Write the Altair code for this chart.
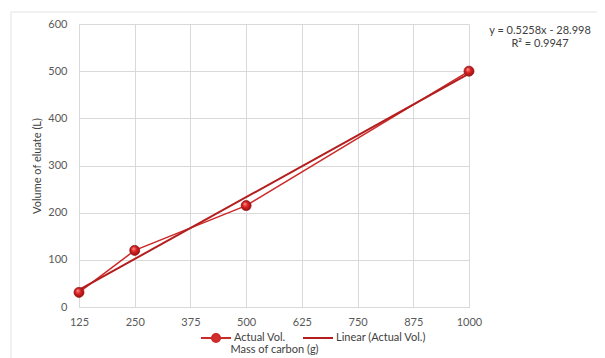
import altair as alt
import pandas as pd

mass = [125, 250, 500, 1000]
volume = [31, 120, 215, 500]
series_names = ["Actual Vol.", "Linear (Actual Vol.)"]
x_ticks = [125, 250, 375, 500, 625, 750, 875, 1000]
y_ticks = [0, 100, 200, 300, 400, 500, 600]
equation_lines = ["y = 0.5258x - 28.998", "R² = 0.9947"]

df = pd.DataFrame({"mass": mass, "vol": volume, "series": series_names[0]})
legend_df = pd.DataFrame({"series": series_names})
one = pd.DataFrame({"t": [0]})

FONT = "Lato"
RED = "#CC2929"
RED2 = "#B31E1E"

xs = alt.Scale(domain=[125, 1000], nice=False, zero=False)
ys = alt.Scale(domain=[0, 600], nice=False)

line_path = "M-1,0L1,0"
marker_path = "M-1,0L-0.27,0M0.27,0L1,0M-0.27,0A0.27,0.27 0 1,1 0.27,0A0.27,0.27 0 1,1 -0.27,0Z"


def make_legend(x, shape):
    return alt.Legend(
        title=None, orient="none", direction="horizontal",
        legendX=x, legendY=298, symbolType=shape,
        labelFont=FONT, labelFontSize=11, labelColor="#404040",
        symbolSize=900, symbolStrokeWidth=2, labelOffset=2,
    )


x_enc = alt.X("mass:Q", scale=xs, axis=alt.Axis(
    values=x_ticks, title="Mass of carbon (g)", grid=True, ticks=False,
    labelPadding=9, titleY=42, titleBaseline="middle", format="d", labelFlush=False,
    labelFont=FONT, titleFont=FONT, labelFontSize=11, titleFontSize=11,
    labelColor="#595959", titleColor="#404040", titleFontWeight="normal"))
y_enc = alt.Y("vol:Q", scale=ys, axis=alt.Axis(
    values=y_ticks, title="Volume of eluate (L)", grid=True, ticks=False,
    labelPadding=12, titlePadding=5, labelFlush=False,
    labelFont=FONT, titleFont=FONT, labelFontSize=11, titleFontSize=11,
    labelColor="#595959", titleColor="#404040", titleFontWeight="normal"))

base = alt.Chart(df)

data_line = base.mark_line(strokeWidth=1.5, color=RED).encode(x=x_enc, y=y_enc)

trend = base.transform_regression(
    "mass", "vol", method="linear", extent=[125, 1000]
).mark_line(strokeWidth=2, color=RED2).encode(
    x=alt.X("mass:Q", scale=xs), y=alt.Y("vol:Q", scale=ys),
)

points = base.mark_point(
    filled=True, size=100, opacity=1, stroke="#9B1B1B", strokeWidth=0.8,
    fill={"gradient": "radial", "x1": 0.35, "y1": 0.3, "r1": 0.0,
          "x2": 0.5, "y2": 0.5, "r2": 0.55,
          "stops": [{"offset": 0, "color": "#FF9E9E"},
                    {"offset": 0.45, "color": "#E02424"},
                    {"offset": 1, "color": "#8E0E0E"}]},
).encode(x=alt.X("mass:Q", scale=xs), y=alt.Y("vol:Q", scale=ys))

leg_a = alt.Chart(legend_df).transform_filter(
    alt.datum.series == series_names[0]
).mark_point(filled=False, fill="#D32F2F", strokeWidth=2, opacity=1).encode(
    x=alt.value(-200), y=alt.value(-200),
    color=alt.Color("series:N", scale=alt.Scale(domain=[series_names[0]], range=[RED]),
                    legend=make_legend(121, marker_path)),
)

leg_b = alt.Chart(legend_df).transform_filter(
    alt.datum.series == series_names[1]
).mark_point(filled=False, strokeWidth=2, opacity=1).encode(
    x=alt.value(-200), y=alt.value(-200),
    color=alt.Color("series:N", scale=alt.Scale(domain=[series_names[1]], range=[RED2]),
                    legend=make_legend(223, line_path)),
)

eq = alt.Chart(one).mark_text(
    font=FONT, fontSize=11, color="#404040", align="center", baseline="middle",
    lineHeight=13,
).encode(x=alt.value(461), y=alt.value(7), text=alt.value(equation_lines))

border_top = alt.Chart(one).mark_rule(color="#E3E3E3", strokeWidth=1).encode(
    x=alt.value(-68), x2=alt.value(530), y=alt.value(-12))
border_left = alt.Chart(one).mark_rule(color="#E3E3E3", strokeWidth=1).encode(
    x=alt.value(-68), y=alt.value(-12), y2=alt.value(340))

chart = alt.layer(border_top, border_left, data_line, trend, points, leg_a, leg_b, eq).resolve_scale(
    color="independent"
).properties(
    width=390, height=283,
    autosize=alt.AutoSizeParams(type="none"),
    padding={"left": 71, "top": 16, "right": 128, "bottom": 51},
).configure_view(stroke=None).configure_axis(
    gridColor="#D9D9D9", domainColor="#D9D9D9", gridWidth=1
)

chart.save("out.html", embed_options={"renderer": "svg", "actions": False})
